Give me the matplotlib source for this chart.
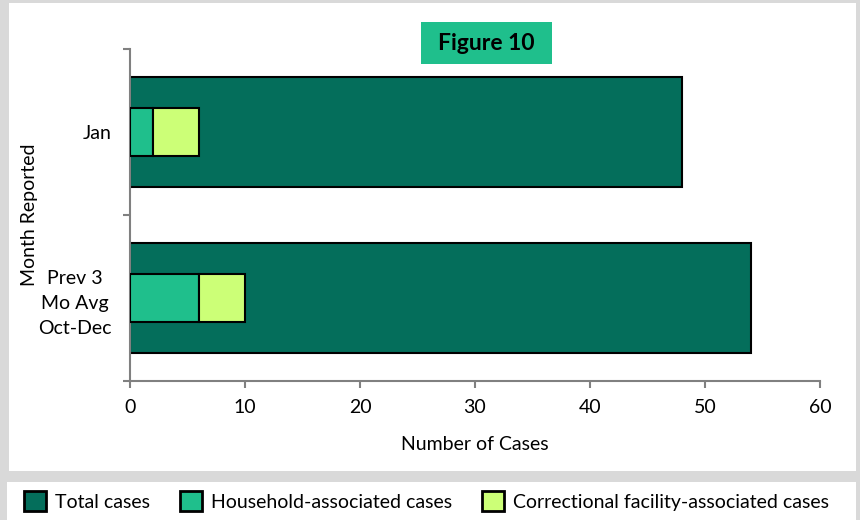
import matplotlib.pyplot as plt
from matplotlib.patches import Rectangle, Patch

plt.rcParams['font.family'] = ['Lato', 'DejaVu Sans']

# case counts per reporting period
periods = ['Jan', 'Prev 3\nMo Avg\nOct-Dec']
total_cases = [48, 54]
household_cases = [2, 6]
correctional_cases = [4, 4]

c_total = '#046E5B'
c_house = '#1FBF8C'
c_corr = '#CCFF77'
c_frame = '#D9D9D9'
fs = 14

W, H = 860, 520
fig = plt.figure(figsize=(W / 100, H / 100), dpi=100, facecolor=c_frame)


def fig_rect(x0, y0, x1, y1, color):
    # rectangle given in pixels from the top-left corner
    fig.patches.append(Rectangle((x0 / W, 1 - y1 / H), (x1 - x0) / W, (y1 - y0) / H,
                                 transform=fig.transFigure, facecolor=color,
                                 edgecolor='none', zorder=-1))


# white panels for chart area and legend strip
fig_rect(9, 3, 856, 471, 'white')
fig_rect(7, 482, 856, 520, 'white')

ax = fig.add_axes([130 / W, 1 - 381 / H, 690 / W, 332 / H])
ax.set_facecolor('none')

ypos = range(len(periods))
ax.barh(ypos, total_cases, height=0.66, color=c_total, edgecolor='black', linewidth=1.5, zorder=2)
ax.barh(ypos, household_cases, height=0.29, color=c_house, edgecolor='black', linewidth=1.5, zorder=3)
ax.barh(ypos, correctional_cases, left=household_cases, height=0.29, color=c_corr,
        edgecolor='black', linewidth=1.5, zorder=3)

ax.set_xlim(0, 60)
ax.set_ylim(1.5, -0.5)
ax.set_xticks(range(0, 61, 10))
ax.set_yticks([-0.5, 0.5, 1.5])
ax.set_yticklabels([])
ax.set_yticks(list(ypos), minor=True)
ax.set_yticklabels(periods, minor=True, multialignment='center', fontsize=fs, linespacing=1.55)
ax.tick_params(axis='y', which='minor', length=0, pad=13)
ax.tick_params(axis='y', which='major', length=5, color='#808080', width=1.5)
ax.tick_params(axis='x', length=5, color='#808080', width=1.5, labelsize=fs, pad=8)

for s in ['top', 'right']:
    ax.spines[s].set_visible(False)
for s in ['left', 'bottom']:
    ax.spines[s].set_color('#808080')
    ax.spines[s].set_linewidth(1.5)

ax.set_xlabel('Number of Cases', fontsize=fs, labelpad=14)
fig.text(30 / W, 1 - 215 / H, 'Month Reported', rotation=90, ha='center', va='center', fontsize=fs)

# title badge
fig_rect(421, 22, 552, 64, c_house)
fig.text(486 / W, 1 - 43 / H, 'Figure 10', ha='center', va='center', fontsize=16.5, fontweight='bold')

handles = [Patch(facecolor=c_total, edgecolor='black', linewidth=2),
           Patch(facecolor=c_house, edgecolor='black', linewidth=2),
           Patch(facecolor=c_corr, edgecolor='black', linewidth=2)]
labels = ['Total cases', 'Household-associated cases', 'Correctional facility-associated cases']
fig.legend(handles, labels, ncol=3, loc='center left', bbox_to_anchor=(6 / W, 19 / H),
           frameon=False, fontsize=fs, handlelength=1.15, handleheight=1.15,
           handletextpad=0.45, columnspacing=1.55)

fig.savefig('out.png', dpi=100, facecolor=c_frame)
